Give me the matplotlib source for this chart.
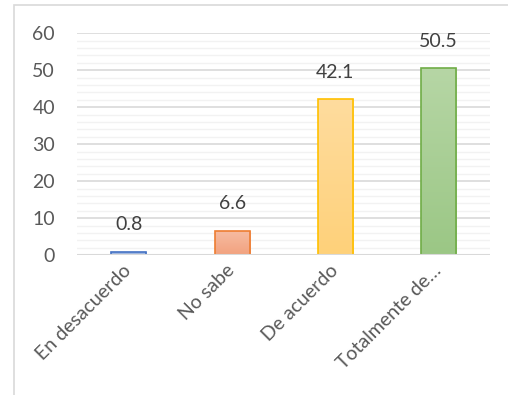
import numpy as np
import matplotlib.pyplot as plt
from matplotlib.colors import LinearSegmentedColormap
from matplotlib.patches import Rectangle

categories = ["En desacuerdo", "No sabe", "De acuerdo", "Totalmente de…"]
values = [0.8, 6.6, 42.1, 50.5]
edge_colors = ["#4472C4", "#ED7D31", "#FFC000", "#70AD47"]
fill_top = ["#AFC3E8", "#F6BCA2", "#FFDC9E", "#B6D6A5"]
fill_bottom = ["#8FAADC", "#F2A27F", "#FED17A", "#9BC785"]

plt.rcParams['font.family'] = ['Lato', 'DejaVu Sans']

fig = plt.figure(figsize=(5.08, 3.95), dpi=100)
ax = fig.add_axes([0.152, 0.354, 0.813, 0.562])

# outer chart border (light gray)
fig.patches.append(Rectangle((14 / 508, -0.01), 1.0, 1 - 5 / 395 + 0.01,
                             transform=fig.transFigure, fill=False,
                             edgecolor="#D9D9D9", linewidth=1.2))

x = np.arange(len(categories))
width = 0.34

ax.set_xlim(-0.5, len(categories) - 0.5)
ax.set_ylim(0, 60)

# gridlines
for yv in np.arange(2, 60, 2):
    if yv % 10:
        ax.axhline(yv, color="#F2F2F2", linewidth=1.0, zorder=0)
for yv in np.arange(10, 61, 10):
    ax.axhline(yv, color="#D9D9D9", linewidth=1.2, zorder=0.5)

for i, v in enumerate(values):
    cmap = LinearSegmentedColormap.from_list("g", [fill_bottom[i], fill_top[i]])
    grad = np.linspace(0, 1, 100).reshape(-1, 1)
    im = ax.imshow(grad, cmap=cmap, origin="lower", aspect="auto",
                   extent=(x[i] - width / 2, x[i] + width / 2, 0, v), zorder=2)
    rect = Rectangle((x[i] - width / 2, 0), width, v, facecolor="none",
                     edgecolor=edge_colors[i], linewidth=1.2, zorder=3)
    ax.add_patch(rect)
    im.set_clip_path(rect)
    ax.annotate(f"{v:.1f}", (x[i], v), xytext=(0, 13.5), textcoords="offset points",
                ha="center", va="bottom", fontsize=14, color="#404040")

ax.set_xlim(-0.5, len(categories) - 0.5)
ax.set_ylim(0, 60)
ax.axhline(0, color="#D9D9D9", linewidth=1.5, zorder=4)

for s in ax.spines.values():
    s.set_visible(False)

ax.set_yticks(np.arange(0, 61, 10))
ax.tick_params(axis="y", length=0, labelsize=14, labelcolor="#595959", pad=16)
ax.set_xticks(x)
ax.set_xticklabels(categories, rotation=45, ha="right", va="center",
                   rotation_mode="anchor", fontsize=14, color="#595959")
ax.tick_params(axis="x", length=0, pad=9)

fig.savefig("out.png", dpi=100)
